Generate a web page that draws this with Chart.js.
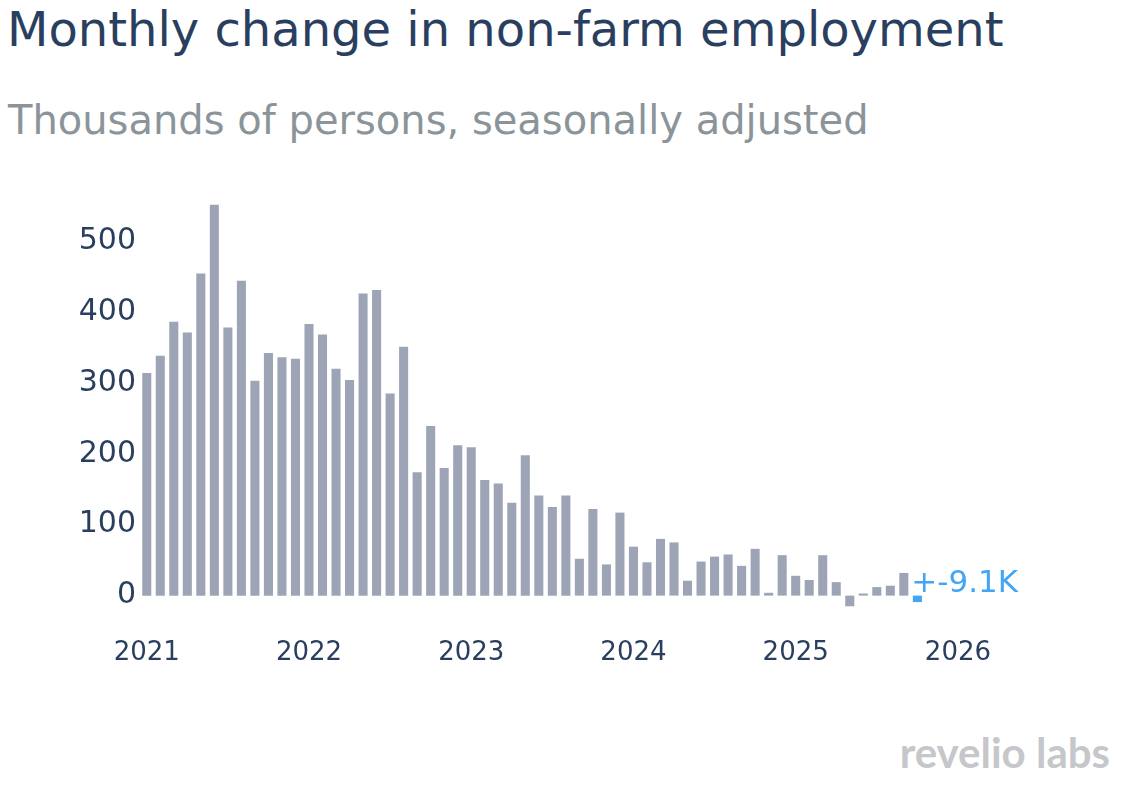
<!DOCTYPE html>
<html>
<head>
<meta charset="utf-8">
<script src="https://cdn.jsdelivr.net/npm/chart.js@4.4.1/dist/chart.umd.min.js"></script>
<style>
  html, body { margin: 0; padding: 0; background: #fff; }
  body { width: 1124px; height: 786px; position: relative; overflow: hidden; }
  .title {
    position: absolute; left: 7px; top: 5px; line-height: 1; white-space: nowrap;
    font-family: 'DejaVu Sans', sans-serif; font-size: 48px; color: #2a3f5f;
  }
  .subtitle {
    position: absolute; left: 8px; top: 100px; line-height: 1; white-space: nowrap;
    font-family: 'DejaVu Sans', sans-serif; font-size: 40px; color: #8b9499;
  }
  .brand {
    position: absolute; right: 14px; top: 731px; line-height: 1; white-space: nowrap;
    font-family: Lato, 'Open Sans', sans-serif; font-weight: 700; font-size: 42px; color: #c6c7ca;
  }
  #wrap { position: absolute; left: 0; top: 150px; width: 1124px; height: 530px; }
</style>
</head>
<body>
<div class="title">Monthly change in non-farm employment</div>
<div class="subtitle">Thousands of persons, seasonally adjusted</div>
<div class="brand">revelio labs</div>
<div id="wrap"><canvas id="chart"></canvas></div>
<script>
// Monthly change, thousands of persons, Jan 2021 .. Oct 2025
const startYear = 2021;
const changes = [
    314, 338, 386, 371, 454, 551, 378, 444, 303, 342, 336, 334,   // 2021
    383, 368, 320, 304, 426, 431, 285, 351, 174, 239, 180, 212,   // 2022
    209, 163, 158, 131, 198, 141, 125, 141, 52, 122, 44, 117,     // 2023
    69, 47, 80, 75, 21, 48, 55, 58, 42, 66, 4, 57,                // 2024
    28, 22, 57, 19, -15, 3, 12, 14, 32, -9.1                      // 2025
];
const yearTicks = [2021, 2022, 2023, 2024, 2025, 2026];
const valueTicks = [0, 100, 200, 300, 400, 500];
const latestLabel = '+-9.1K';

const barColor = '#9ca4b5';
const latestColor = '#42a5f5';
const textColor = '#2a3f5f';
const fontFamily = "'DejaVu Sans', sans-serif";

const points = changes.map((v, i) => ({ x: i, y: v }));
const colors = changes.map((v, i) => i === changes.length - 1 ? latestColor : barColor);

// Draws the text label next to the latest bar
const latestLabelPlugin = {
    id: 'latestLabel',
    afterDatasetsDraw(chart) {
        const { ctx, scales } = chart;
        const last = changes.length - 1;
        const px = scales.x.getPixelForValue(last);
        const py = scales.y.getPixelForValue(0);
        ctx.save();
        ctx.font = '31px ' + fontFamily;
        ctx.fillStyle = latestColor;
        ctx.textAlign = 'left';
        ctx.textBaseline = 'middle';
        ctx.fillText(latestLabel, px - 6, py - 12);
        ctx.restore();
    }
};

new Chart(document.getElementById('chart'), {
    type: 'bar',
    data: {
        datasets: [{
            data: points,
            backgroundColor: colors,
            borderWidth: 0,
            barPercentage: 1.0,
            categoryPercentage: 0.67
        }]
    },
    options: {
        responsive: true,
        maintainAspectRatio: false,
        animation: false,
        layout: { padding: { left: 0, right: 112, top: 20, bottom: 0 } },
        scales: {
            x: {
                type: 'linear',
                offset: false,
                min: -0.5,
                max: 64,
                afterFit: (scale) => {
                    scale.height = 56;
                    scale.paddingLeft = 0;
                    scale.paddingRight = 0;
                },
                afterBuildTicks: (scale) => {
                    scale.ticks = yearTicks.map(y => ({ value: (y - startYear) * 12 }));
                },
                ticks: {
                    color: textColor,
                    font: { family: fontFamily, size: 26 },
                    padding: 14,
                    maxRotation: 0,
                    autoSkip: false,
                    callback: (v) => String(startYear + Math.round(v / 12))
                },
                grid: { display: false, drawTicks: false },
                border: { display: false }
            },
            y: {
                min: -40,
                max: 600,
                afterFit: (scale) => {
                    scale.width = 140;
                    scale.paddingTop = 0;
                    scale.paddingBottom = 0;
                },
                afterBuildTicks: (scale) => {
                    scale.ticks = valueTicks.map(v => ({ value: v }));
                },
                ticks: {
                    color: textColor,
                    font: { family: fontFamily, size: 30 },
                    padding: 4
                },
                grid: { display: false, drawTicks: false },
                border: { display: false }
            }
        },
        plugins: {
            legend: { display: false },
            tooltip: { enabled: false }
        }
    },
    plugins: [latestLabelPlugin]
});
</script>
</body>
</html>
